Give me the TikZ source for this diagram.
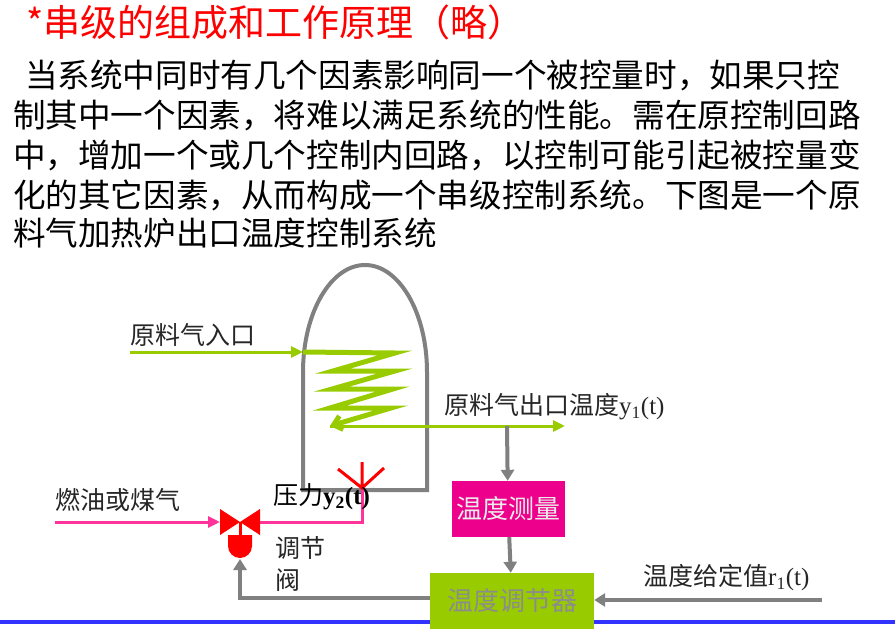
\documentclass[tikz,border=0pt]{standalone}
\usepackage{fontspec}
\setmainfont{Liberation Serif}
\newfontfamily\cjk{Noto Sans CJK SC}
\usetikzlibrary{arrows.meta}
\definecolor{coilgreen}{HTML}{99CC00}
\definecolor{fuelpink}{HTML}{FF3399}
\definecolor{furngray}{HTML}{808080}
\tikzset{every path/.style={line join=miter},
  lbl/.style={anchor=west, inner sep=0pt, font=\cjk\fontsize{25}{25}\selectfont, text=black!85},
  para/.style={anchor=west, inner sep=0pt, font=\cjk\fontsize{32.6}{33}\selectfont},
  sig/.style={furngray, line width=4pt, -{Triangle[length=11pt,width=13pt]}},
  blk/.style={minimum height=56pt, inner sep=0pt, font=\cjk\fontsize{26}{26}\selectfont}}

\begin{document}
\begin{tikzpicture}[x=1pt,y=-1pt]
  \useasboundingbox (0,0) rectangle (895,634);
  % title and text
  \node[anchor=west, inner sep=0pt, text=red, font=\cjk\fontsize{37}{37}\selectfont] (title) at (26,22) {*串级的组成和工作原理（略）};
  \node[para] (l1) at (25,75)  {当系统中同时有几个因素影响同一个被控量时，如果只控};
  \node[para] (l2) at (13,115) {制其中一个因素，将难以满足系统的性能。需在原控制回路};
  \node[para] (l3) at (13,155) {中，增加一个或几个控制内回路，以控制可能引起被控量变};
  \node[para] (l4) at (13,195) {化的其它因素，从而构成一个串级控制系统。下图是一个原};
  \node[para] (l5) at (13,233) {料气加热炉出口温度控制系统};
  \draw[blue!80, line width=4pt] (0,622) -- (895,622);
  % furnace
  \draw[furngray, line width=4pt] (303,372) arc[start angle=180, end angle=360, x radius=62, y radius=107]
    -- (427,490) -- (303,490) -- cycle;
  % coil
  \coordinate (inlet) at (130,352);
  \coordinate (cin) at (303,352);
  \coordinate (cout) at (330,426);
  \coordinate (outlet) at (565,426);
  \coordinate (tap) at (507,426);
  \draw[coilgreen, line width=3pt, -{Triangle[length=12pt,width=11pt]}] (inlet) -- (cin);
  \draw[coilgreen, line width=5pt, -{Straight Barb[length=8pt,width=14pt]}] (cin) -- (395,353) -- (333,371) -- (395,371) -- (332,389)
    -- (393,389) -- (330,408) -- (391,408) -- (cout);
  \draw[coilgreen, line width=3pt, -{Triangle[length=12pt,width=11pt]}] (cout) -- (outlet);
  \node[lbl] (inlab) at (130,335) {原料气入口};
  \node[lbl] (outlab) at (444,407) {原料气出口温度\rmfamily y\textsubscript{1}(t)};
  % blocks
  \node[blk, fill=magenta, minimum width=113pt, text=white!85!gray] (meas) at (508,509) {温度测量};
  \node[blk, fill=coilgreen, minimum width=164pt, text=black!45] (ctrl) at (512,601) {温度调节器};
  \draw[sig] (tap) -- (meas);
  \draw[sig] (meas) -- (ctrl);
  \coordinate (setp) at (822,600);
  \node[lbl] (setlab) at (643,578) {温度给定值\rmfamily r\textsubscript{1}(t)};
  \draw[sig] (setp) -- (ctrl.east |- setp);
  % valve
  \coordinate (valve) at (240,522);
  \coordinate (act) at (240,559);
  \draw[sig] (ctrl.west |- 0,598) -- (240,598) -- (act);
  \fill[red] (220,509) -- (260,535) -- (260,509) -- (220,535) -- cycle;
  \draw[red, line width=3pt] (valve) -- (240,536);
  \fill[red] (228,535) -- (252,535) -- (252,546) arc[start angle=0, end angle=-180, radius=12pt] -- cycle;
  % fuel and burner
  \coordinate (fuel) at (55,522);
  \coordinate (burner) at (362,488);
  \draw[fuelpink, line width=3pt, -{Triangle[length=12pt,width=11pt]}] (fuel) -- (220,522);
  \draw[fuelpink, line width=3pt] (260,522) -- (362,522) -- (burner);
  \draw[red, line width=3pt] (362,462) -- (burner) (338,469) -- (burner) -- (384,468);
  \node[lbl] (fuellab) at (55,500) {燃油或煤气};
  \node[lbl, text=black] (plab) at (273,497) {压力\rmfamily\bfseries y\textsubscript{2}(t)};
  \node[lbl] (v1) at (275,548) {调节};
  \node[lbl] (v2) at (275,580) {阀};
\end{tikzpicture}
\end{document}
